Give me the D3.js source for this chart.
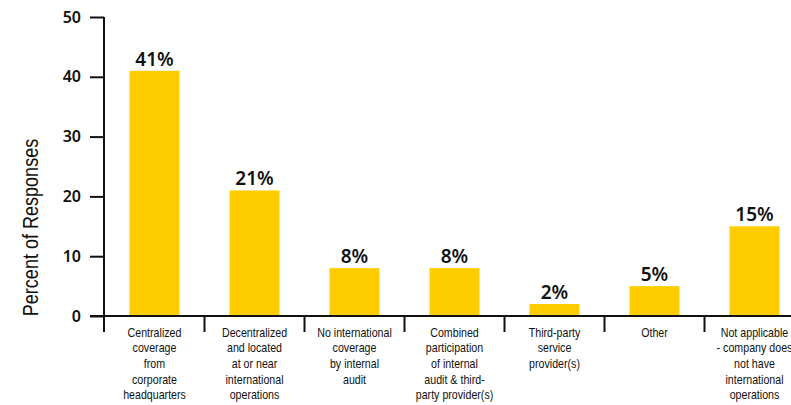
<!DOCTYPE html>
<html>
<head>
<meta charset="utf-8">
<script src="https://cdn.jsdelivr.net/npm/d3@7"></script>
<style>
  html, body { margin: 0; padding: 0; background: #fff; }
  svg { display: block; }
  .cat { font-family: "Liberation Sans", Arial, sans-serif; font-size: 13px; fill: #111; }
  .tick-lbl { font-family: "Noto Sans", "DejaVu Sans", sans-serif; font-weight: 600; font-size: 16px; fill: #111; }
  .val { font-family: "Noto Sans", "DejaVu Sans", sans-serif; font-weight: 600; font-size: 19px; fill: #111; }
  .ytitle { font-family: "Liberation Sans", Arial, sans-serif; font-size: 22px; fill: #111; }
</style>
</head>
<body>
<svg id="chart" width="791" height="405"></svg>
<script>
// Survey categories (each label split into its printed lines)
const categories = [
  ["Centralized", "coverage", "from", "corporate", "headquarters"],
  ["Decentralized", "and located", "at or near", "international", "operations"],
  ["No international", "coverage", "by internal", "audit"],
  ["Combined", "participation", "of internal", "audit & third-", "party provider(s)"],
  ["Third-party", "service", "provider(s)"],
  ["Other"],
  ["Not applicable", "- company does", "not have", "international", "operations"]
];
// Percent of responses per category
const values = [41, 21, 8, 8, 2, 5, 15];
// Y axis ticks
const yTicks = [0, 10, 20, 30, 40, 50];

const barColor = "#FFCC00";
const ink = "#111";
const narrow = 0.82; // horizontal squeeze for the narrow label face

const svg = d3.select("#chart");
const keys = categories.map((c, i) => "c" + i);

const x = d3.scaleBand()
  .domain(keys)
  .range([104.5, 804.5])
  .paddingInner(0.5)
  .paddingOuter(0.25);

const y = d3.scaleLinear()
  .domain([0, 50])
  .range([316, 17]);

// Bars
svg.append("g").selectAll("rect")
  .data(values)
  .join("rect")
  .attr("x", (d, i) => x(keys[i]))
  .attr("y", d => y(d))
  .attr("width", x.bandwidth())
  .attr("height", d => y(0) - y(d))
  .attr("fill", barColor);

// Value labels above bars
svg.append("g").selectAll("text")
  .data(values)
  .join("text")
  .attr("class", "val")
  .attr("x", (d, i) => x(keys[i]) + x.bandwidth() / 2)
  .attr("y", d => y(d) - 5)
  .attr("text-anchor", "middle")
  .text(d => d + "%");

// Y axis
const yAxis = d3.axisLeft(y)
  .tickValues(yTicks)
  .tickSize(14)
  .tickPadding(9)
  .tickSizeOuter(0);

const yG = svg.append("g")
  .attr("transform", "translate(104,0)")
  .call(yAxis);
yG.select(".domain").remove();
yG.selectAll(".tick line").attr("stroke", ink).attr("stroke-width", 2);
yG.selectAll(".tick text").attr("class", "tick-lbl").attr("font-size", null).attr("font-family", null);

// Vertical axis line, running past the baseline
svg.append("line")
  .attr("x1", 104).attr("x2", 104)
  .attr("y1", y(50)).attr("y2", 332)
  .attr("stroke", ink).attr("stroke-width", 2);

// Horizontal baseline
svg.append("line")
  .attr("x1", 90).attr("x2", 791)
  .attr("y1", y(0)).attr("y2", y(0))
  .attr("stroke", ink).attr("stroke-width", 2);

// Category separator ticks below the baseline
const step = x.step();
svg.append("g").selectAll("line")
  .data(keys.slice(1))
  .join("line")
  .attr("x1", k => x(k) - step * 0.25)
  .attr("x2", k => x(k) - step * 0.25)
  .attr("y1", y(0))
  .attr("y2", 332)
  .attr("stroke", ink)
  .attr("stroke-width", 2);

// Category labels
const catG = svg.append("g").selectAll("text")
  .data(categories)
  .join("text")
  .attr("class", "cat")
  .attr("text-anchor", "middle")
  .attr("transform", (d, i) =>
    `translate(${x(keys[i]) + x.bandwidth() / 2},336.5) scale(${narrow},1)`);
catG.selectAll("tspan")
  .data(d => d)
  .join("tspan")
  .attr("x", 0)
  .attr("dy", (d, i) => i === 0 ? 0 : 15.7)
  .text(d => d);

// Y axis title
svg.append("text")
  .attr("class", "ytitle")
  .attr("transform", `translate(37.5,227.5) rotate(-90) scale(${narrow},1)`)
  .attr("text-anchor", "middle")
  .text("Percent of Responses");
</script>
</body>
</html>
